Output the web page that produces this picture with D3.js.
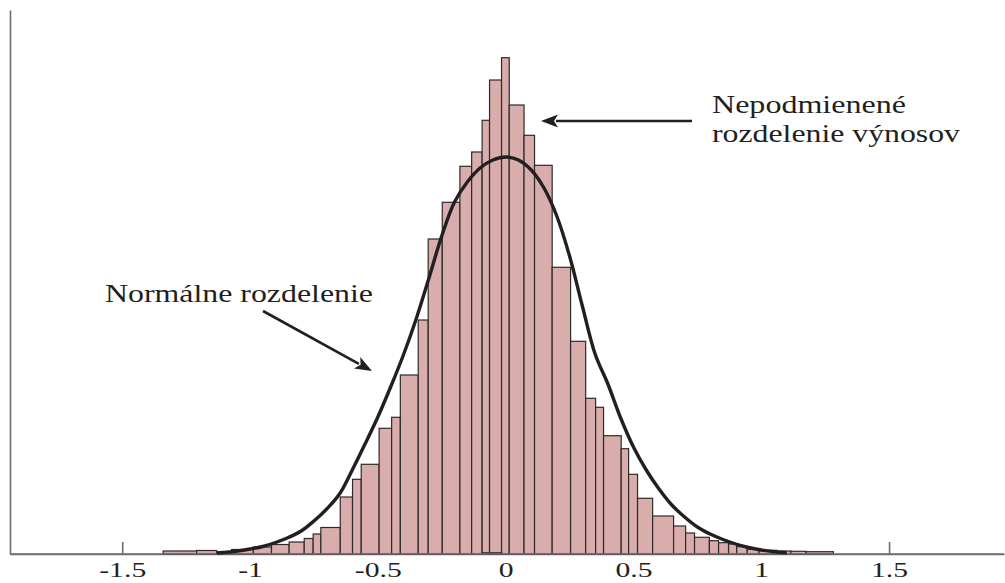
<!DOCTYPE html>
<html>
<head>
<meta charset="utf-8">
<script src="https://cdn.jsdelivr.net/npm/d3@7"></script>
<style>
  html, body { margin: 0; padding: 0; background: #ffffff; }
  svg { display: block; }
</style>
</head>
<body>
<svg id="chart" width="1005" height="583"></svg>
<script>
// ---- data ----
const binEdges = [-1.340,-1.209,-1.131,-1.072,-0.987,-0.916,-0.847,-0.788,-0.753,-0.723,
  -0.647,-0.599,-0.565,-0.495,-0.446,-0.412,-0.342,-0.303,-0.248,-0.179,
  -0.133,-0.092,-0.063,-0.016,0.014,0.072,0.113,0.182,0.254,0.313,
  0.352,0.383,0.452,0.481,0.516,0.575,0.657,0.704,0.739,0.797,
  0.833,0.872,0.904,0.945,0.991,1.060,1.116,1.175,1.282];
const binCounts = [3,3.5,2,4.5,7,9.5,12,15.5,20,26.5,
  57,74.7,89.7,125.7,136.7,179,234,315,351.7,387.7,
  402,433.7,474,496.3,449,418.7,388.7,286.7,212.7,155.7,
  146.7,118.3,105.3,79.7,55.7,38,28,21,16.7,13.3,
  11.3,10,7.3,4.7,3.7,3,2.7,2.3];
// small overlapping bin near zero
const extraBinEdges = [-0.092, -0.016];
const extraBinCounts = [1.2];

const normalX = [-1.13,-1.05,-1.00,-0.95,-0.90,-0.85,-0.80,-0.75,-0.70,-0.65,
  -0.60,-0.55,-0.50,-0.45,-0.40,-0.35,-0.30,-0.25,-0.20,-0.15,
  -0.10,-0.05,0.00,0.05,0.10,0.15,0.20,0.25,0.30,0.35,
  0.40,0.45,0.50,0.55,0.60,0.65,0.70,0.75,0.80,0.85,
  0.90,0.95,1.00,1.05,1.10];
const normalY = [1,3,5,7.5,11.5,16.5,23,33,45,60,
  84,110,137,167,199,235,276,318,352,372,
  386,394,397,394,384,366,338,298,248,200,
  170,136,107,84,65,49,37,27,20,14.5,
  10,6.5,4,2.3,1.2];

const tickValues = [-1.5, -1, -0.5, 0, 0.5, 1, 1.5];
const tickLabels = ["-1.5", "-1", "-0.5", "0", "0.5", "1", "1.5"];
const markedTicks = [-1.5, 1.5];

const labelNormal = "Normálne rozdelenie";
const labelEmp1 = "Nepodmienené";
const labelEmp2 = "rozdelenie výnosov";

// ---- layout ----
const svg = d3.select("#chart");
const x = d3.scaleLinear().domain([-1.939, 1.9496]).range([10, 1004]);
const y = d3.scaleLinear().domain([0, 544]).range([554, 10]);

const axisColor = "#6e6e6e";
const barFill = "#d9adac";
const barStroke = "#2e2a2a";
const ink = "#231f20";
const serif = "'Liberation Serif', 'Times New Roman', serif";

// axes (drawn first)
const xAxis = d3.axisBottom(x)
  .tickValues(tickValues)
  .tickFormat((d, i) => tickLabels[i])
  .tickSizeInner(-12)
  .tickSizeOuter(0)
  .tickPadding(7);
const gx = svg.append("g").attr("transform", `translate(0,${y(0)})`).call(xAxis);
gx.select(".domain").attr("stroke", axisColor).attr("stroke-width", 1.6);
gx.selectAll(".tick line")
  .attr("stroke", axisColor).attr("stroke-width", 1.6)
  .attr("display", d => markedTicks.includes(d) ? null : "none");
gx.selectAll(".tick text")
  .attr("font-family", serif)
  .attr("font-size", 22)
  .attr("fill", ink)
  .attr("transform", "scale(1.35,1)");

const yAxis = d3.axisLeft(y).tickValues([]).tickSizeOuter(0);
const gy = svg.append("g").attr("transform", `translate(${x.range()[0]},0)`).call(yAxis);
gy.select(".domain").attr("stroke", axisColor).attr("stroke-width", 1.6);

// bars
const bins = binCounts.map((c, i) => ({x0: binEdges[i], x1: binEdges[i + 1], c}));
svg.append("g").selectAll("rect").data(bins).join("rect")
  .attr("x", d => x(d.x0))
  .attr("y", d => y(d.c))
  .attr("width", d => x(d.x1) - x(d.x0))
  .attr("height", d => y(0) - y(d.c))
  .attr("fill", barFill)
  .attr("stroke", barStroke)
  .attr("stroke-width", 1.2);

const extra = extraBinCounts.map((c, i) => ({x0: extraBinEdges[i], x1: extraBinEdges[i + 1], c}));
svg.append("g").selectAll("rect").data(extra).join("rect")
  .attr("x", d => x(d.x0))
  .attr("y", d => y(d.c))
  .attr("width", d => x(d.x1) - x(d.x0))
  .attr("height", d => y(0) - y(d.c))
  .attr("fill", barFill)
  .attr("stroke", barStroke)
  .attr("stroke-width", 1.2);

// bottom axis line over bars
svg.append("line")
  .attr("x1", x.range()[0]).attr("x2", x.range()[1])
  .attr("y1", y(0)).attr("y2", y(0))
  .attr("stroke", axisColor).attr("stroke-width", 1.6);

// normal curve
const line = d3.line()
  .x(d => x(d[0]))
  .y(d => y(d[1]))
  .curve(d3.curveCatmullRom.alpha(0.5));
svg.append("path")
  .datum(normalX.map((v, i) => [v, normalY[i]]))
  .attr("d", line)
  .attr("fill", "none")
  .attr("stroke", ink)
  .attr("stroke-width", 3.4);

// annotations
function arrow(x1, y1, x2, y2) {
  const len = Math.hypot(x2 - x1, y2 - y1);
  const ux = (x2 - x1) / len, uy = (y2 - y1) / len;
  const hl = 17, hw = 6.5;
  const bx = x2 - ux * hl, by = y2 - uy * hl;
  svg.append("line")
    .attr("x1", x1).attr("y1", y1).attr("x2", bx + ux * 2).attr("y2", by + uy * 2)
    .attr("stroke", ink).attr("stroke-width", 2.6);
  svg.append("path")
    .attr("d", `M${x2},${y2}L${bx - uy * hw},${by + ux * hw}L${bx + ux * 4},${by + uy * 4}L${bx + uy * hw},${by - ux * hw}Z`)
    .attr("fill", ink);
}
arrow(263, 311, 372, 371);
arrow(692, 121, 541, 121);

function label(txt, x0, base, w) {
  svg.append("text")
    .attr("x", x0).attr("y", base)
    .attr("font-family", serif)
    .attr("font-size", 25)
    .attr("fill", ink)
    .attr("textLength", w)
    .attr("lengthAdjust", "spacingAndGlyphs")
    .text(txt);
}
label(labelNormal, 105, 302, 268);
label(labelEmp1, 712, 113, 194);
label(labelEmp2, 712, 142, 248);
</script>
</body>
</html>
